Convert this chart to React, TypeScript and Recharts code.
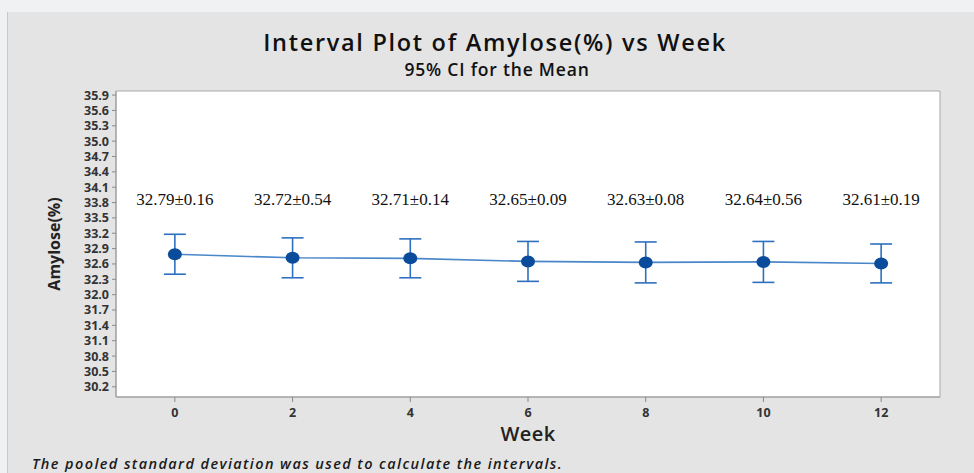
import {
  ComposedChart,
  Line,
  ErrorBar,
  XAxis,
  YAxis,
  ReferenceArea,
  LabelList,
  Label,
} from "recharts";

const weeks = [0, 2, 4, 6, 8, 10, 12];
const means = [32.79, 32.72, 32.71, 32.65, 32.63, 32.64, 32.61];
const sds = [0.16, 0.54, 0.14, 0.09, 0.08, 0.56, 0.19];
const ci = [0.39, 0.39, 0.38, 0.39, 0.4, 0.4, 0.38];
const xTicks = [0, 2, 4, 6, 8, 10, 12];
const yTicks = [
  30.2, 30.5, 30.8, 31.1, 31.4, 31.7, 32.0, 32.3, 32.6, 32.9, 33.2, 33.5, 33.8,
  34.1, 34.4, 34.7, 35.0, 35.3, 35.6, 35.9,
];

const data = weeks.map((w, i) => ({
  week: w,
  mean: means[i],
  ci: ci[i],
  label: `${means[i].toFixed(2)}±${sds[i].toFixed(2)}`,
}));

const sans = "'Open Sans', 'Noto Sans', sans-serif";

const Dot = (props: any) => {
  const { cx, cy } = props;
  if (cx == null || cy == null) return null;
  return <ellipse cx={cx} cy={cy} rx={7} ry={6} fill="#0a4b9b" />;
};

const MeanLabel = (props: any) => {
  const { x, value } = props;
  return (
    <text
      x={x}
      y={205}
      textAnchor="middle"
      fontFamily="'Liberation Serif', 'Times New Roman', serif"
      fontSize={17}
      fill="#111"
    >
      {value}
    </text>
  );
};

export default function App() {
  return (
    <div
      style={{
        position: "fixed",
        left: 0,
        top: 0,
        width: 974,
        height: 473,
        background: "#f0f1f3",
      }}
    >
      <div
        style={{
          position: "absolute",
          left: 7,
          top: 12,
          width: 967,
          height: 461,
          background: "#e4e4e4",
          borderLeft: "1px solid #c8c8c8",
        }}
      />
      <div style={{ position: "absolute", left: 0, top: 0 }}>
        <ComposedChart
          width={974}
          height={473}
          data={data}
          margin={{ top: 91, right: 34, bottom: 46, left: 0 }}
        >
          <XAxis
            type="number"
            dataKey="week"
            domain={[-1, 13]}
            ticks={xTicks}
            allowDataOverflow
            height={30}
            axisLine={{ stroke: "#9a9a9a" }}
            tickLine={{ stroke: "#8a8a8a" }}
            tickSize={5}
            tickMargin={6}
            tick={{ fontFamily: sans, fontSize: 12.5, fontWeight: 700, fill: "#333" }}
          />
          <YAxis
            type="number"
            domain={[30.0, 35.98]}
            ticks={yTicks}
            interval={0}
            allowDataOverflow
            width={116}
            axisLine={{ stroke: "#9a9a9a" }}
            tickLine={{ stroke: "#8a8a8a" }}
            tickSize={4}
            tickMargin={3}
            tickFormatter={(v: number) => v.toFixed(1)}
            tick={{ fontFamily: sans, fontSize: 12.5, fontWeight: 700, fill: "#333" }}
          >
            <Label
              value="Amylose(%)"
              angle={-90}
              position="insideLeft"
              offset={54}
              style={{
                fontFamily: sans,
                fontSize: 16,
                fontWeight: 700,
                fill: "#222",
                textAnchor: "middle",
              }}
            />
          </YAxis>
          <ReferenceArea
            x1={-1}
            x2={13}
            y1={30.0}
            y2={35.98}
            fill="#ffffff"
            fillOpacity={1}
            stroke="#a8a8a8"
            strokeWidth={1}
            ifOverflow="visible"
          />
          <Line
            type="linear"
            dataKey="mean"
            stroke="#4a87c9"
            strokeWidth={1.6}
            dot={<Dot />}
            activeDot={false}
            isAnimationActive={false}
          >
            <ErrorBar dataKey="ci" width={11} stroke="#2e70bf" strokeWidth={1.6} />
            <LabelList dataKey="label" content={<MeanLabel />} />
          </Line>
          <text
            x={495}
            y={51}
            textAnchor="middle"
            fontFamily={sans}
            fontSize={23.5}
            fontWeight={600}
            letterSpacing={1.7}
            fill="#111"
          >
            Interval Plot of Amylose(%) vs Week
          </text>
          <text
            x={497}
            y={76}
            textAnchor="middle"
            fontFamily={sans}
            fontSize={17.5}
            fontWeight={600}
            letterSpacing={0.8}
            fill="#111"
          >
            95% CI for the Mean
          </text>
          <text
            x={528}
            y={441}
            textAnchor="middle"
            fontFamily={sans}
            fontSize={20}
            fontWeight={600}
            letterSpacing={0.4}
            fill="#222"
          >
            Week
          </text>
          <text
            x={32}
            y={469}
            fontFamily={sans}
            fontSize={14.5}
            fontStyle="italic"
            fontWeight={600}
            letterSpacing={1.4}
            fill="#1a1a1a"
          >
            The pooled standard deviation was used to calculate the intervals.
          </text>
        </ComposedChart>
      </div>
    </div>
  );
}
